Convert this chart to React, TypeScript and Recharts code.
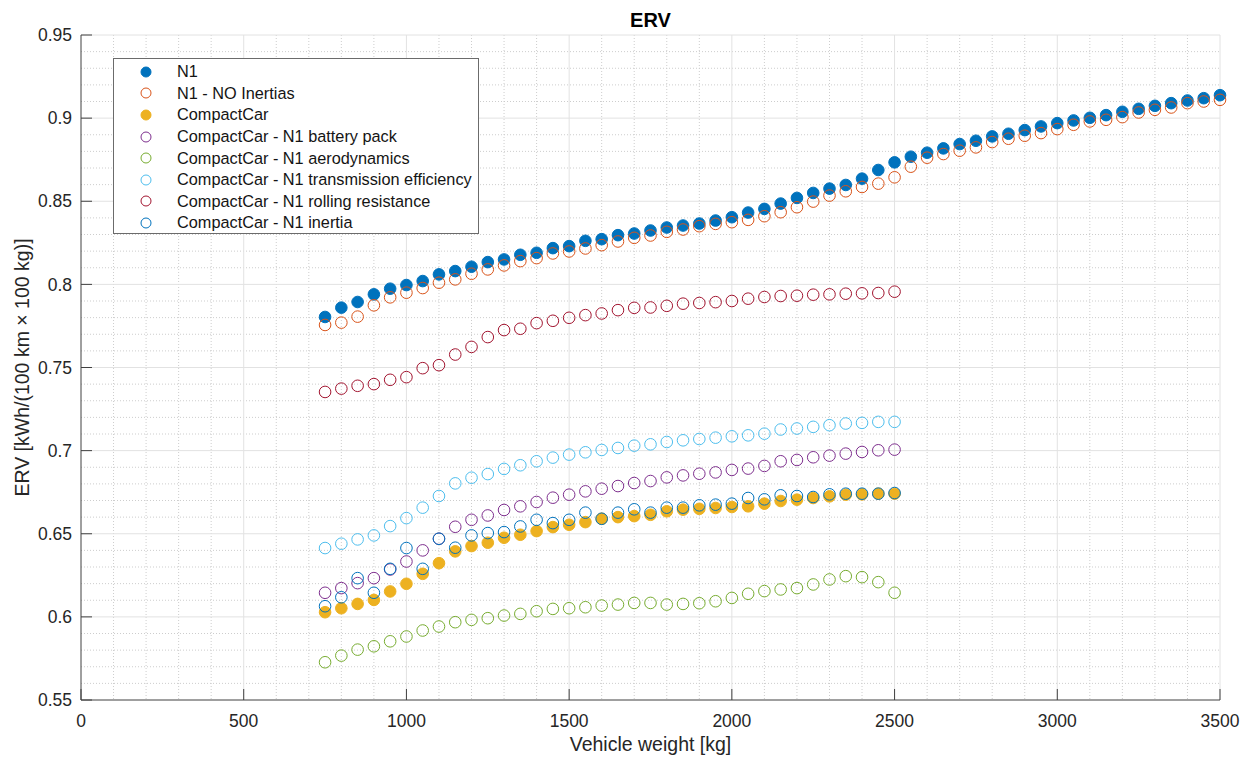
import {
  ScatterChart,
  Scatter,
  XAxis,
  YAxis,
  CartesianGrid,
  Legend,
  Label,
} from "recharts"

// vehicle weights [kg]
const WEIGHTS_N1 = [
  750, 800, 850, 900, 950, 1000, 1050, 1100, 1150, 1200, 1250, 1300, 1350, 1400,
  1450, 1500, 1550, 1600, 1650, 1700, 1750, 1800, 1850, 1900, 1950, 2000, 2050,
  2100, 2150, 2200, 2250, 2300, 2350, 2400, 2450, 2500, 2550, 2600, 2650, 2700,
  2750, 2800, 2850, 2900, 2950, 3000, 3050, 3100, 3150, 3200, 3250, 3300, 3350,
  3400, 3450, 3500,
]

const WEIGHTS_CC = [
  750, 800, 850, 900, 950, 1000, 1050, 1100, 1150, 1200, 1250, 1300, 1350, 1400,
  1450, 1500, 1550, 1600, 1650, 1700, 1750, 1800, 1850, 1900, 1950, 2000, 2050,
  2100, 2150, 2200, 2250, 2300, 2350, 2400, 2450, 2500,
]

// ERV values [kWh/(100 km x 100 kg)]
const N1 = [
  0.7804, 0.786, 0.7894, 0.794, 0.7974, 0.7996, 0.802, 0.806, 0.808, 0.8106,
  0.8134, 0.815, 0.8178, 0.819, 0.8218, 0.823, 0.8262, 0.8272, 0.8296, 0.8306,
  0.8324, 0.8342, 0.8354, 0.8366, 0.8384, 0.8404, 0.8432, 0.8454, 0.8486, 0.852,
  0.855, 0.8576, 0.8598, 0.8636, 0.8688, 0.8734, 0.8768, 0.8792, 0.8818, 0.8844,
  0.8864, 0.889, 0.8906, 0.8928, 0.895, 0.897, 0.8986, 0.9002, 0.9018, 0.9038,
  0.9056, 0.9074, 0.909, 0.9106, 0.912, 0.9138,
]

const N1_NO_INERTIAS = [
  0.7756, 0.777, 0.7806, 0.7874, 0.7922, 0.795, 0.7978, 0.801, 0.803, 0.8064,
  0.809, 0.8114, 0.814, 0.8158, 0.8186, 0.8198, 0.8216, 0.8236, 0.8258, 0.828,
  0.8294, 0.8316, 0.833, 0.835, 0.8364, 0.8374, 0.8388, 0.841, 0.8434, 0.8464,
  0.8498, 0.8534, 0.856, 0.8586, 0.8606, 0.8644, 0.8708, 0.8762, 0.8784, 0.8804,
  0.8824, 0.8856, 0.8876, 0.8894, 0.891, 0.8934, 0.896, 0.898, 0.899, 0.9006,
  0.9034, 0.905, 0.9064, 0.909, 0.91, 0.911,
]

const COMPACT_CAR = [
  0.6028, 0.6052, 0.6078, 0.6102, 0.6153, 0.6199, 0.6259, 0.6323, 0.6394, 0.6426,
  0.6446, 0.6476, 0.6494, 0.6516, 0.654, 0.6554, 0.657, 0.659, 0.66, 0.6606,
  0.6614, 0.6635, 0.6645, 0.665, 0.6655, 0.6661, 0.6665, 0.6681, 0.6697, 0.6705,
  0.6715, 0.6725, 0.6735, 0.6737, 0.6741, 0.6741,
]

const CC_BATTERY = [
  0.6145, 0.6173, 0.6203, 0.6233, 0.6285, 0.6333, 0.64, 0.647, 0.6542, 0.6584,
  0.661, 0.6643, 0.6665, 0.6691, 0.6717, 0.6735, 0.6755, 0.6771, 0.6787, 0.6805,
  0.6817, 0.6839, 0.6851, 0.6861, 0.6869, 0.6884, 0.6892, 0.6908, 0.6936, 0.6944,
  0.696, 0.697, 0.6982, 0.6992, 0.7002, 0.7006,
]

const CC_AERO = [
  0.5727, 0.5767, 0.5803, 0.5823, 0.5853, 0.5882, 0.5918, 0.5942, 0.5968, 0.5982,
  0.5992, 0.6008, 0.6018, 0.6034, 0.6048, 0.6052, 0.6058, 0.6068, 0.6074, 0.6084,
  0.6084, 0.6074, 0.6078, 0.6082, 0.6094, 0.6114, 0.6139, 0.6155, 0.6165, 0.6173,
  0.6195, 0.6225, 0.6245, 0.6239, 0.6209, 0.6145,
]

const CC_TRANSMISSION = [
  0.6414, 0.644, 0.6466, 0.649, 0.6546, 0.6594, 0.6657, 0.6727, 0.6803, 0.6837,
  0.6859, 0.689, 0.6912, 0.6936, 0.6958, 0.6976, 0.699, 0.7004, 0.7016, 0.703,
  0.7038, 0.7052, 0.7062, 0.707, 0.7078, 0.7086, 0.7092, 0.7102, 0.7127, 0.7133,
  0.7143, 0.7153, 0.7163, 0.7167, 0.7173, 0.7173,
]

const CC_ROLLING = [
  0.7353, 0.7373, 0.739, 0.74, 0.7426, 0.7442, 0.7496, 0.7514, 0.7578, 0.7624,
  0.7683, 0.7725, 0.7733, 0.7767, 0.7781, 0.7799, 0.7815, 0.7825, 0.7845, 0.7859,
  0.7861, 0.7871, 0.7884, 0.7888, 0.7893, 0.79, 0.7914, 0.7924, 0.793, 0.7932,
  0.7938, 0.794, 0.7944, 0.7946, 0.7948, 0.7956,
]

const CC_INERTIA = [
  0.6064, 0.6118, 0.6233, 0.6145, 0.6289, 0.6414, 0.6289, 0.647, 0.6416, 0.649,
  0.6504, 0.651, 0.6544, 0.6584, 0.6564, 0.6584, 0.6627, 0.659, 0.6627, 0.6647,
  0.6627, 0.6657, 0.6657, 0.6671, 0.6675, 0.6681, 0.6715, 0.6707, 0.6731, 0.6727,
  0.6721, 0.6737, 0.6741, 0.6741, 0.6741, 0.6745,
]

const X_TICKS = [0, 500, 1000, 1500, 2000, 2500, 3000, 3500]
const Y_TICKS = [0.55, 0.6, 0.65, 0.7, 0.75, 0.8, 0.85, 0.9, 0.95]

// minor grid every 100 kg / 0.01
const X_MINOR: number[] = []
for (let v = 100; v < 3500; v += 100) if (v % 500 !== 0) X_MINOR.push(v)
const Y_MINOR: number[] = []
for (let i = 56; i < 95; i++) if (i % 5 !== 0) Y_MINOR.push(i / 100)

const SERIES = [
  { name: "N1", color: "#0072BD", filled: true, x: WEIGHTS_N1, y: N1 },
  { name: "N1 - NO Inertias", color: "#D95319", filled: false, x: WEIGHTS_N1, y: N1_NO_INERTIAS },
  { name: "CompactCar", color: "#EDB120", filled: true, x: WEIGHTS_CC, y: COMPACT_CAR },
  { name: "CompactCar - N1 battery pack", color: "#7E2F8E", filled: false, x: WEIGHTS_CC, y: CC_BATTERY },
  { name: "CompactCar - N1 aerodynamics", color: "#77AC30", filled: false, x: WEIGHTS_CC, y: CC_AERO },
  { name: "CompactCar - N1 transmission efficiency", color: "#4DBEEE", filled: false, x: WEIGHTS_CC, y: CC_TRANSMISSION },
  { name: "CompactCar - N1 rolling resistance", color: "#A2142F", filled: false, x: WEIGHTS_CC, y: CC_ROLLING },
  { name: "CompactCar - N1 inertia", color: "#0072BD", filled: false, x: WEIGHTS_CC, y: CC_INERTIA },
]

const FONT = "'Liberation Sans', Arial, Helvetica, sans-serif"
const AXIS_COLOR = "#404040"
const TEXT_COLOR = "#262626"

function LegendBox() {
  return (
    <div
      style={{
        width: 366,
        height: 176,
        boxSizing: "border-box",
        border: "1px solid #6b6b6b",
        background: "#fff",
        paddingTop: 2,
        fontFamily: FONT,
      }}
    >
      {SERIES.map((s) => (
        <div key={s.name} style={{ height: 21.6, display: "flex", alignItems: "center" }}>
          <svg width={12} height={12} style={{ marginLeft: 26, marginRight: 25 }}>
            <circle
              cx={6}
              cy={6}
              r={5}
              fill={s.filled ? s.color : "none"}
              stroke={s.color}
              strokeWidth={1}
            />
          </svg>
          <span style={{ fontSize: 16.3, color: "#141414", whiteSpace: "nowrap" }}>{s.name}</span>
        </div>
      ))}
    </div>
  )
}

function YAxisTitle({ viewBox }: any) {
  const cx = viewBox.x + 14
  const cy = viewBox.y + viewBox.height / 2
  return (
    <text
      x={cx}
      y={cy}
      transform={`rotate(-90, ${cx}, ${cy})`}
      textAnchor="middle"
      dominantBaseline="central"
      fontSize={19.5}
      fill={TEXT_COLOR}
      fontFamily={FONT}
    >
      ERV [kWh/(100 km × 100 kg)]
    </text>
  )
}

export default function App() {
  return (
    <div style={{ position: "relative", width: 1240, height: 752, fontFamily: FONT, background: "#fff" }}>
      <div
        style={{
          position: "absolute",
          left: 73,
          width: 1139,
          top: 1,
          lineHeight: "22px",
          textAlign: "center",
          fontSize: 20,
          fontWeight: "bold",
          color: "#000",
        }}
      >
        ERV
      </div>

      <ScatterChart
        width={1240}
        height={752}
        margin={{ top: 27, right: 28, left: 0, bottom: 9 }}
      >
        {/* minor grid */}
        <CartesianGrid
          verticalValues={X_MINOR}
          horizontalValues={Y_MINOR}
          stroke="#cdcdcd"
          strokeDasharray="1 2"
        />
        {/* major grid */}
        <CartesianGrid
          verticalValues={[500, 1000, 1500, 2000, 2500, 3000, 3500]}
          horizontalValues={[0.6, 0.65, 0.7, 0.75, 0.8, 0.85, 0.9, 0.95]}
          stroke="#e2e2e2"
        />

        <XAxis
          type="number"
          dataKey="x"
          domain={[0, 3500]}
          ticks={X_TICKS}
          interval={0}
          height={51}
          tickSize={-11}
          tickMargin={26}
          tick={{ fill: TEXT_COLOR, fontSize: 17.5, fontFamily: FONT }}
          tickLine={{ stroke: AXIS_COLOR }}
          axisLine={{ stroke: AXIS_COLOR }}
        >
          <Label
            value="Vehicle weight [kg]"
            position="insideBottom"
            offset={0}
            fontSize={19.5}
            fill={TEXT_COLOR}
            fontFamily={FONT}
          />
        </XAxis>

        <YAxis
          type="number"
          dataKey="y"
          domain={[0.55, 0.95]}
          ticks={Y_TICKS}
          interval={0}
          width={73}
          tickSize={-11}
          tickMargin={20}
          tick={{ fill: TEXT_COLOR, fontSize: 17.5, fontFamily: FONT }}
          tickLine={{ stroke: AXIS_COLOR }}
          axisLine={{ stroke: AXIS_COLOR }}
        >
          <Label content={<YAxisTitle />} />
        </YAxis>

        <Legend
          layout="vertical"
          align="center"
          verticalAlign="middle"
          wrapperStyle={{ left: 105, top: 50, width: 366, height: 176 }}
          content={() => <LegendBox />}
        />

        {SERIES.map((s) => (
          <Scatter
            key={s.name}
            name={s.name}
            data={s.x.map((x, i) => ({ x, y: s.y[i] }))}
            isAnimationActive={false}
            shape={(p: any) => (
              <circle
                cx={p.cx}
                cy={p.cy}
                r={5.8}
                fill={s.filled ? s.color : "none"}
                stroke={s.color}
                strokeWidth={1}
              />
            )}
          />
        ))}
      </ScatterChart>
    </div>
  )
}
